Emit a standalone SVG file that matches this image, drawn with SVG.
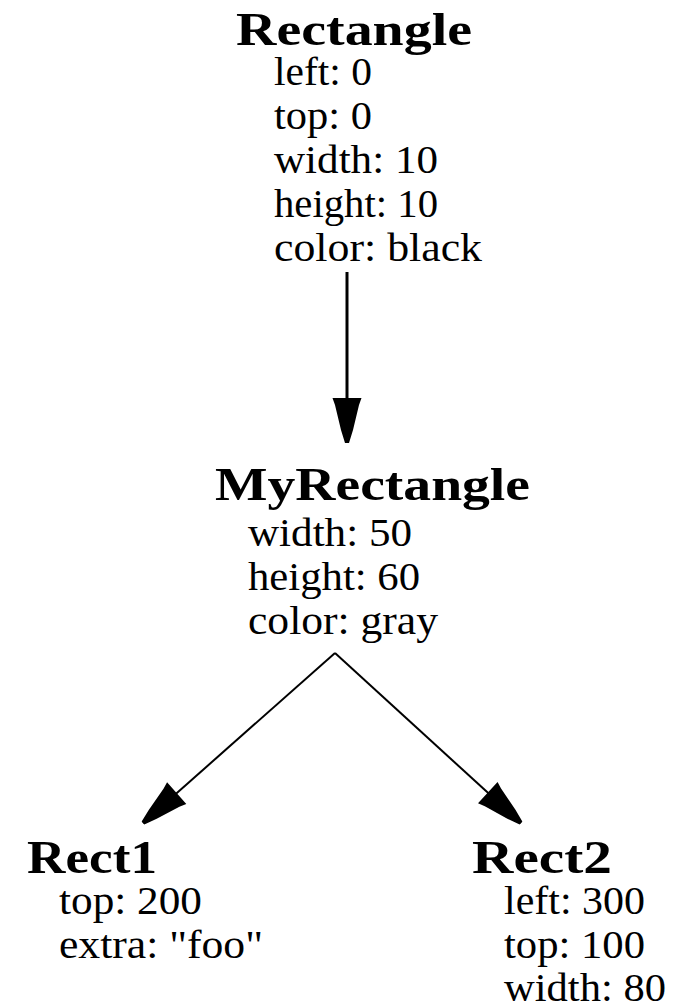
<svg xmlns="http://www.w3.org/2000/svg" width="689" height="1008" viewBox="0 0 689 1008">
<defs>
<style>
.t{font-family:"Liberation Serif","Times New Roman",serif;font-weight:bold;font-size:47px;fill:#000}
.a{font-family:"Liberation Serif","Times New Roman",serif;font-size:41px;fill:#000}
.c{stroke:#000;fill:none}
</style>
<marker id="ah" markerUnits="userSpaceOnUse" markerWidth="50" markerHeight="32" viewBox="0 -16 46 32" refX="45" refY="0" orient="auto">
<path d="M0,-14.5 L0,14.5 L7,12 L32,6 L45,2 L45,-2 L32,-6 L7,-12 Z" fill="#000"/>
</marker>
</defs>
<rect width="689" height="1008" fill="#fff"/>
<g id="connectors">
<line class="c" x1="347" y1="272" x2="347" y2="443" stroke-width="3" marker-end="url(#ah)"/>
<line class="c" x1="335" y1="653" x2="143" y2="823" stroke-width="2" marker-end="url(#ah)"/>
<line class="c" x1="335" y1="653" x2="521" y2="823" stroke-width="2" marker-end="url(#ah)"/>
</g>
<g id="rectangle">
<text class="t" x="236" y="45" textLength="236" lengthAdjust="spacingAndGlyphs">Rectangle</text>
<text class="a" x="274" y="85" textLength="98" lengthAdjust="spacingAndGlyphs">left: 0</text>
<text class="a" x="274" y="129" textLength="98" lengthAdjust="spacingAndGlyphs">top: 0</text>
<text class="a" x="274" y="173" textLength="164" lengthAdjust="spacingAndGlyphs">width: 10</text>
<text class="a" x="274" y="217" textLength="164" lengthAdjust="spacingAndGlyphs">height: 10</text>
<text class="a" x="274" y="261" textLength="208" lengthAdjust="spacingAndGlyphs">color: black</text>
</g>
<g id="myrectangle">
<text class="t" x="215" y="500" textLength="315" lengthAdjust="spacingAndGlyphs">MyRectangle</text>
<text class="a" x="248" y="546" textLength="164" lengthAdjust="spacingAndGlyphs">width: 50</text>
<text class="a" x="248" y="590" textLength="172" lengthAdjust="spacingAndGlyphs">height: 60</text>
<text class="a" x="248" y="634" textLength="190" lengthAdjust="spacingAndGlyphs">color: gray</text>
</g>
<g id="rect1">
<text class="t" x="27" y="873" textLength="130" lengthAdjust="spacingAndGlyphs">Rect1</text>
<text class="a" x="59" y="914" textLength="143" lengthAdjust="spacingAndGlyphs">top: 200</text>
<text class="a" x="59" y="958" textLength="204" lengthAdjust="spacingAndGlyphs">extra: "foo"</text>
</g>
<g id="rect2">
<text class="t" x="472" y="873" textLength="140" lengthAdjust="spacingAndGlyphs">Rect2</text>
<text class="a" x="504" y="914" textLength="141" lengthAdjust="spacingAndGlyphs">left: 300</text>
<text class="a" x="504" y="958" textLength="141" lengthAdjust="spacingAndGlyphs">top: 100</text>
<text class="a" x="504" y="1001" textLength="162" lengthAdjust="spacingAndGlyphs">width: 80</text>
</g>
</svg>
